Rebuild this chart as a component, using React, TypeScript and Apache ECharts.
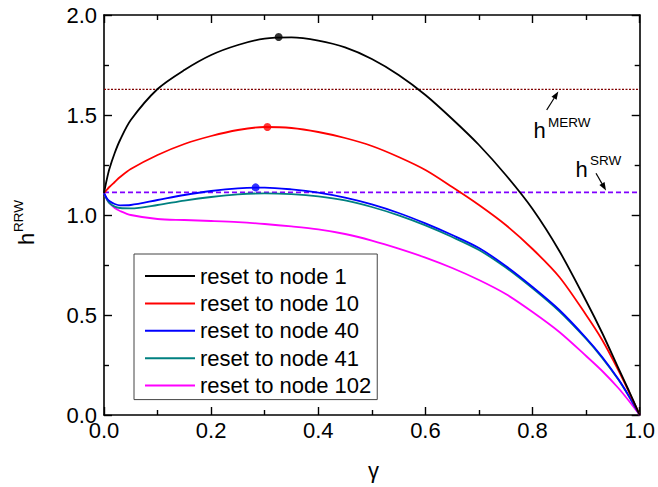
import React, { useEffect, useRef } from "react";
import * as echarts from "echarts";

const gamma = [0, 0.005, 0.01, 0.02, 0.03, 0.05, 0.1, 0.15, 0.2, 0.25, 0.3, 0.35, 0.4, 0.45, 0.5, 0.55, 0.6, 0.65, 0.7, 0.75, 0.8, 0.85, 0.9, 0.93, 0.96, 0.98, 1];
const resetNode1 = [1.11, 1.175, 1.23, 1.31, 1.375, 1.475, 1.63, 1.725, 1.80, 1.85, 1.882, 1.888, 1.872, 1.838, 1.78, 1.70, 1.60, 1.48, 1.35, 1.20, 1.03, 0.82, 0.57, 0.41, 0.235, 0.12, 0];
const resetNode10 = [1.11, 1.125, 1.14, 1.165, 1.19, 1.23, 1.30, 1.355, 1.395, 1.425, 1.44, 1.435, 1.415, 1.385, 1.345, 1.29, 1.225, 1.14, 1.05, 0.95, 0.83, 0.69, 0.50, 0.375, 0.225, 0.115, 0];
const resetNode40 = [1.11, 1.085, 1.07, 1.055, 1.048, 1.05, 1.075, 1.10, 1.12, 1.133, 1.137, 1.128, 1.112, 1.087, 1.053, 1.01, 0.958, 0.90, 0.835, 0.745, 0.64, 0.525, 0.385, 0.29, 0.18, 0.095, 0];
const resetNode41 = [1.11, 1.08, 1.06, 1.042, 1.035, 1.033, 1.05, 1.072, 1.09, 1.103, 1.108, 1.104, 1.093, 1.073, 1.04, 0.998, 0.948, 0.89, 0.825, 0.737, 0.633, 0.518, 0.38, 0.285, 0.177, 0.092, 0];
const resetNode102 = [1.11, 1.08, 1.06, 1.035, 1.02, 1.0, 0.98, 0.975, 0.97, 0.964, 0.955, 0.943, 0.928, 0.905, 0.872, 0.832, 0.787, 0.735, 0.675, 0.605, 0.515, 0.415, 0.295, 0.22, 0.135, 0.07, 0];

const seriesNames = ["reset to node 1", "reset to node 10", "reset to node 40", "reset to node 41", "reset to node 102"];
const seriesValues = [resetNode1, resetNode10, resetNode40, resetNode41, resetNode102];
const seriesColors = ["#000000", "#ff0000", "#0000ff", "#008080", "#ff00ff"];

const peakGamma = [0.326, 0.305, 0.283];
const peakH = [1.89, 1.44, 1.138];

const hMERW = 1.628;
const hSRW = 1.113;

const FONT = "'Liberation Sans', Arial, sans-serif";

function arrow(x1: number, y1: number, x2: number, y2: number) {
  const dx = x2 - x1, dy = y2 - y1;
  const L = Math.hypot(dx, dy);
  const ux = dx / L, uy = dy / L;
  const hl = 8, hw = 3;
  const bx = x2 - ux * hl, by = y2 - uy * hl;
  return [
    { type: "line", shape: { x1, y1, x2: bx, y2: by }, style: { stroke: "#000", lineWidth: 1.2 } },
    {
      type: "polygon",
      shape: { points: [[x2, y2], [bx - uy * hw, by + ux * hw], [bx + uy * hw, by - ux * hw]] },
      style: { fill: "#000" },
    },
  ];
}

function txt(text: string, x: number, y: number, size: number, rotation = 0, align = "left") {
  return {
    type: "text",
    x,
    y,
    rotation,
    style: {
      text,
      fontSize: size,
      fontFamily: FONT,
      fill: "#000",
      textAlign: align,
      textVerticalAlign: "middle",
      align,
      verticalAlign: "middle",
    },
  };
}

export default function App() {
  const ref = useRef<HTMLDivElement>(null);
  useEffect(() => {
    const chart = echarts.init(ref.current!, null, { renderer: "svg" });
    const axisCommon = {
      type: "value",
      axisLine: { show: true, onZero: false, lineStyle: { color: "#000", width: 1.6 } },
      axisTick: { show: true, inside: true, length: 8, lineStyle: { color: "#000", width: 1.4 } },
      minorTick: { show: true, splitNumber: 2, length: 5, lineStyle: { color: "#000", width: 1.4 } },
      splitLine: { show: false },
      minorSplitLine: { show: false },
    };
    const xLabel = { fontSize: 22, color: "#000", fontFamily: FONT, margin: 4, formatter: (v: number) => v.toFixed(1) };
    const yLabel = { fontSize: 22, color: "#000", fontFamily: FONT, margin: 7, formatter: (v: number) => v.toFixed(1) };

    const curveSeries = seriesNames.map((name, i) => ({
      name,
      type: "line",
      data: gamma.map((g, j) => [g, seriesValues[i][j]]),
      symbol: "none",
      showSymbol: false,
      smooth: 0.3,
      lineStyle: { color: seriesColors[i], width: 1.8 },
      itemStyle: { color: seriesColors[i] },
      z: 3 + (5 - i),
    }));

    const peakSeries = peakGamma.map((g, i) => ({
      type: "scatter",
      data: [[g, peakH[i]]],
      symbol: "circle",
      symbolSize: 8,
      itemStyle: { color: seriesColors[i] },
      z: 10,
    }));

    chart.setOption({
      animation: false,
      backgroundColor: "#fff",
      grid: { left: 104, right: 15, top: 15, bottom: 72, containLabel: false },
      xAxis: [
        { ...axisCommon, position: "bottom", min: 0, max: 1, interval: 0.2, axisLabel: xLabel },
        { ...axisCommon, position: "top", min: 0, max: 1, interval: 0.2, axisLabel: { show: false } },
      ],
      yAxis: [
        { ...axisCommon, position: "left", min: 0, max: 2, interval: 0.5, axisLabel: yLabel },
        { ...axisCommon, position: "right", min: 0, max: 2, interval: 0.5, axisLabel: { show: false } },
      ],
      legend: {
        data: seriesNames.map((n) => ({ name: n, icon: "rect" })),
        orient: "vertical",
        left: 134,
        top: 254,
        padding: [11, 6, 3, 11],
        itemGap: 5.4,
        itemWidth: 50,
        itemHeight: 2,
        borderColor: "#444",
        borderWidth: 1,
        textStyle: { fontSize: 22, color: "#000", fontFamily: FONT },
      },
      series: [
        {
          name: "MERW",
          type: "line",
          data: [[0, hMERW], [1, hMERW]],
          symbol: "none",
          lineStyle: { color: "#800000", width: 1.2, type: [2, 1.5] },
          z: 1,
        },
        {
          name: "SRW",
          type: "line",
          data: [[0, hSRW], [1, hSRW]],
          symbol: "none",
          lineStyle: { color: "#8000ff", width: 1.6, type: [5, 3] },
          z: 2,
        },
        ...curveSeries,
        ...peakSeries,
      ],
      graphic: [
        txt("h", 26.5, 245, 22, Math.PI / 2),
        txt("RRW", 18, 232, 13.5, Math.PI / 2),
        txt("γ", 373.5, 470, 22, 0, "center"),
        txt("h", 533.5, 130, 22),
        txt("MERW", 548, 122, 13.5),
        txt("h", 575.5, 169, 22),
        txt("SRW", 590, 160, 13.5),
        ...arrow(546.7, 110, 558.3, 91.5),
        ...arrow(596, 173.3, 606, 190.5),
      ],
    });
    return () => chart.dispose();
  }, []);
  return <div ref={ref} style={{ position: "fixed", left: 0, top: 0, width: 658, height: 487 }} />;
}
